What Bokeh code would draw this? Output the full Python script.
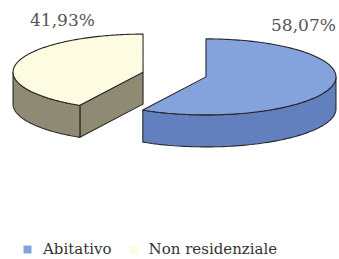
import numpy as np
from bokeh.plotting import figure
from bokeh.models import Range1d, Legend, LegendItem
from bokeh.core.properties import value
from bokeh.embed import file_html
from bokeh.resources import INLINE

# ---- data ----
categories = ["Abitativo", "Non residenziale"]
values = [58.07, 41.93]
pct_labels = ["58,07%", "41,93%"]

# ---- style ----
top_colors = ["#84a2db", "#fdfbe2"]
side_colors = ["#6280bd", "#8e8a73"]
outline = "#262626"
label_color = "#555555"
label_dx = [0.75, -0.62]   # label offset as fraction of rx (layout)

# ---- geometry (in page pixel units) ----
CX, CY = 174.0, 74.0
RX, RY = 130.0, 38.0
DEPTH = 32.0
EXPLODE = 0.25

p = figure(width=338, height=258, output_backend="svg", toolbar_location=None,
           x_range=Range1d(0, 338), y_range=Range1d(258, 0),
           min_border=0, outline_line_color=None)
p.axis.visible = False
p.grid.visible = False
p.background_fill_color = "white"

def pt(cx, cy, th, drop=0.0):
    return cx + RX * np.sin(th), cy - RY * np.cos(th) + drop

total = sum(values)
starts = np.cumsum([0] + values[:-1]) / total * 2 * np.pi
ends = np.cumsum(values) / total * 2 * np.pi

legend_items = []
for i in range(len(values)):
    a0, a1 = starts[i], ends[i]
    m = (a0 + a1) / 2
    cx = CX + EXPLODE * RX * np.sin(m)
    cy = CY - EXPLODE * RY * np.cos(m)

    side_xs, side_ys = [], []
    if np.sin(a0) < -1e-6:
        ex, ey = pt(cx, cy, a0)
        side_xs.append([cx, ex, ex, cx])
        side_ys.append([cy, ey, ey + DEPTH, cy + DEPTH])
    if np.sin(a1) > 1e-6:
        ex, ey = pt(cx, cy, a1)
        side_xs.append([cx, ex, ex, cx])
        side_ys.append([cy, ey, ey + DEPTH, cy + DEPTH])
    s, e = max(a0, np.pi / 2), min(a1, 3 * np.pi / 2)
    if e > s:
        th = np.linspace(s, e, 80)
        tx, ty = pt(cx, cy, th)
        side_xs.append(list(tx) + list(tx[::-1]))
        side_ys.append(list(ty) + list((ty + DEPTH)[::-1]))
    if side_xs:
        p.patches(side_xs, side_ys, fill_color=side_colors[i],
                  line_color=outline, line_width=1.1)

    th = np.linspace(a0, a1, 160)
    tx, ty = pt(cx, cy, th)
    top_x = [cx] + list(tx)
    top_y = [cy] + list(ty)
    r = p.patch(top_x, top_y, fill_color=top_colors[i], line_color=None)
    p.patch(top_x, top_y, fill_alpha=0, line_color=outline, line_width=1.1)
    legend_items.append(LegendItem(label=categories[i], renderers=[r]))

    lx = cx + label_dx[i] * RX
    ly = cy - RY - 14
    p.text([lx], [ly], text=[pct_labels[i]], text_font=value("DejaVu Serif"),
           text_font_size="17px", text_color=label_color,
           text_align="center", text_baseline="middle")

legend = Legend(items=legend_items, location=(22, 0), orientation="horizontal",
                glyph_width=10, glyph_height=10, label_height=18,
                label_text_font="DejaVu Serif", label_text_font_size="15px",
                label_text_color="#333333", label_standoff=11, spacing=16,
                padding=0, margin=0, border_line_color=None,
                background_fill_alpha=0)
p.add_layout(legend, "center")

open("out.html", "w").write(file_html(p, INLINE))
